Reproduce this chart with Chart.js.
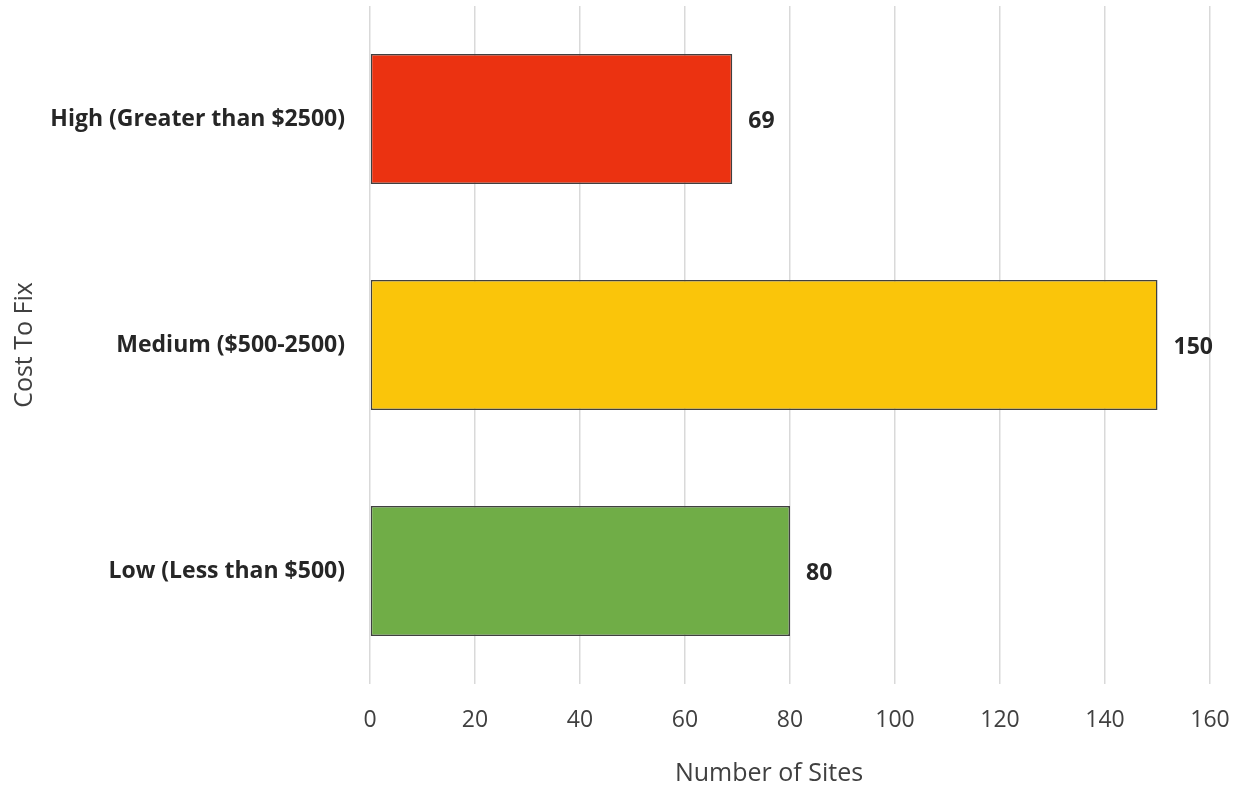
<!DOCTYPE html>
<html>
<head>
<meta charset="utf-8">
<script src="https://cdn.jsdelivr.net/npm/chart.js@4.4.0/dist/chart.umd.min.js"></script>
<style>
  body { margin: 0; background: #fff; }
</style>
</head>
<body>
<canvas id="graph" width="1235" height="790"></canvas>
<script>
var categories = ["High (Greater than $2500)", "Medium ($500-2500)", "Low (Less than $500)"];
var sites = [69, 150, 80];
var barColors = ["#EB3211", "#FAC50A", "#70AD47"];
var xTitle = "Number of Sites";
var yTitle = "Cost To Fix";

var fontName = "'Open Sans', 'Noto Sans', sans-serif";

// value labels at the end of each bar + x axis title (sits a bit left of the plot centre)
var valueLabels = {
  id: "valueLabels",
  afterDatasetsDraw: function(chart) {
    var ctx = chart.ctx;
    var meta = chart.getDatasetMeta(0);
    ctx.save();
    ctx.font = "bold 23px " + fontName;
    ctx.fillStyle = "#262626";
    ctx.textAlign = "left";
    ctx.textBaseline = "middle";
    meta.data.forEach(function(bar, i) {
      ctx.fillText(sites[i], bar.x + 16, bar.y + 2);
    });
    ctx.font = "25px " + fontName;
    ctx.fillStyle = "#404040";
    ctx.textAlign = "center";
    var a = chart.chartArea;
    ctx.fillText(xTitle, (a.left + a.right) / 2 - 21, chart.height - 16);
    ctx.restore();
  }
};

new Chart("graph", {
  type: "bar",
  data: {
    labels: categories,
    datasets: [{
      data: sites,
      backgroundColor: barColors,
      borderColor: "#404040",
      borderWidth: 1.5,
      borderSkipped: false,
      barPercentage: 0.575,
      categoryPercentage: 1
    }]
  },
  options: {
    indexAxis: "y",
    responsive: false,
    animation: false,
    layout: { padding: { top: 6, right: 25, left: 0, bottom: 0 } },
    plugins: {
      legend: { display: false },
      tooltip: { enabled: false }
    },
    scales: {
      x: {
        min: 0,
        max: 160,
        ticks: {
          stepSize: 20,
          color: "#404040",
          padding: 23,
          font: { family: fontName, size: 23 }
        },
        grid: { color: "#d9d9d9", lineWidth: 1.5, drawTicks: false },
        border: { display: false },
        afterFit: function(scale) {
          scale.height = 106;
          scale.paddingRight = 0;
          scale.paddingLeft = 0;
        }
      },
      y: {
        ticks: {
          color: "#262626",
          padding: 17,
          font: { family: fontName, size: 23, weight: "bold" }
        },
        grid: { display: false },
        border: { display: false },
        title: {
          display: true,
          text: yTitle,
          color: "#404040",
          padding: { top: 10, bottom: 0 },
          font: { family: fontName, size: 25 }
        },
        afterFit: function(scale) {
          scale.width = 370;
          scale.paddingTop = 0;
          scale.paddingBottom = 0;
        }
      }
    }
  },
  plugins: [valueLabels]
});
</script>
</body>
</html>
